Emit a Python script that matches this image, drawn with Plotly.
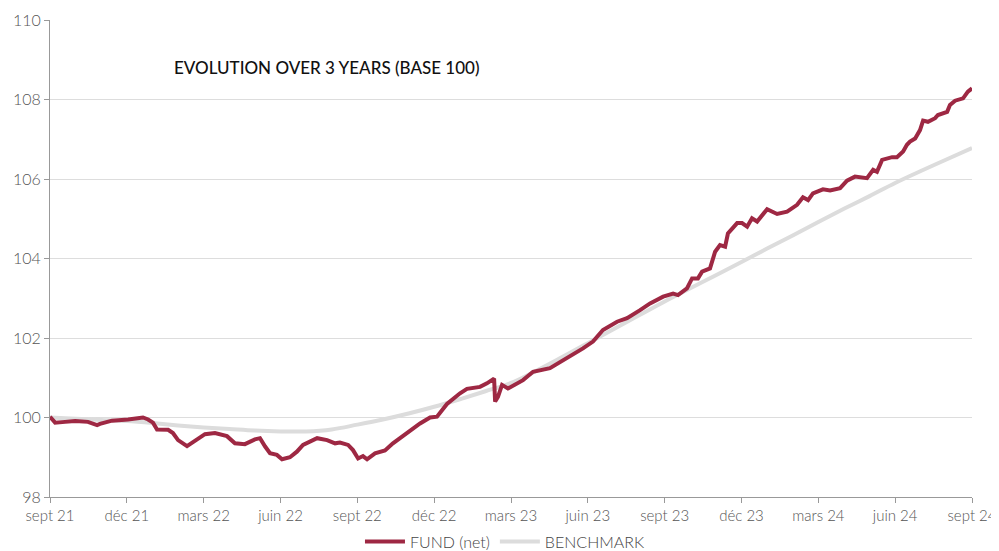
import plotly.graph_objects as go

# Months since end of Sept 2021
tick_months = [0, 3, 6, 9, 12, 15, 18, 21, 24, 27, 30, 33, 36]
tick_labels = ["sept 21", "déc 21", "mars 22", "juin 22", "sept 22", "déc 22", "mars 23",
               "juin 23", "sept 23", "déc 23", "mars 24", "juin 24", "sept 24"]

fund_t = [0, 0.20, 0.59, 0.98, 1.48, 1.84, 1.95, 2.42, 3.05, 3.63, 3.83, 4.02, 4.18, 4.61, 4.80,
          5.00, 5.35, 5.58, 6.05, 6.44, 6.91, 7.22, 7.61, 8.00, 8.20, 8.40, 8.59, 8.86, 9.06, 9.37,
          9.64, 9.88, 10.43, 10.82, 11.13, 11.32, 11.64, 11.83, 12.03, 12.22, 12.38, 12.69, 13.08,
          13.39, 13.74, 14.17, 14.45, 14.84, 15.11, 15.50, 16.01, 16.28, 16.79, 17.06, 17.34, 17.38,
          17.49, 17.65, 17.88, 18.47, 18.86, 19.52, 20.19, 20.81, 21.20, 21.59, 22.14, 22.53, 23.04,
          23.43, 23.94, 24.33, 24.52, 24.87, 25.07, 25.30, 25.46, 25.77, 25.97, 26.16, 26.36, 26.47,
          26.83, 27.02, 27.22, 27.41, 27.61, 28.00, 28.39, 28.78, 29.17, 29.40, 29.60, 29.79, 30.18,
          30.46, 30.85, 31.12, 31.43, 31.90, 32.14, 32.29, 32.49, 32.88, 33.07, 33.31, 33.46, 33.58,
          33.78, 33.97, 34.09, 34.28, 34.56, 34.67, 35.03, 35.14, 35.34, 35.65, 35.84, 36.00]
fund_v = [100.02, 99.87, 99.89, 99.91, 99.89, 99.81, 99.84, 99.92, 99.95, 100.00, 99.95, 99.87,
          99.70, 99.69, 99.61, 99.43, 99.28, 99.37, 99.58, 99.61, 99.53, 99.35, 99.33, 99.45, 99.48,
          99.27, 99.10, 99.06, 98.95, 99.00, 99.14, 99.31, 99.48, 99.43, 99.35, 99.37, 99.31, 99.18,
          98.97, 99.03, 98.95, 99.10, 99.17, 99.35, 99.52, 99.73, 99.85, 100.00, 100.02, 100.34,
          100.61, 100.72, 100.77, 100.86, 100.98, 100.40, 100.52, 100.82, 100.73, 100.94, 101.15,
          101.24, 101.49, 101.74, 101.91, 102.20, 102.41, 102.50, 102.70, 102.87, 103.04, 103.12,
          103.08, 103.25, 103.50, 103.50, 103.67, 103.75, 104.17, 104.34, 104.30, 104.63, 104.89,
          104.89, 104.80, 105.01, 104.93, 105.24, 105.12, 105.18, 105.35, 105.54, 105.47, 105.64,
          105.74, 105.71, 105.77, 105.96, 106.06, 106.02, 106.23, 106.18, 106.48, 106.55, 106.55,
          106.69, 106.86, 106.94, 107.02, 107.23, 107.47, 107.44, 107.53, 107.61, 107.69, 107.86,
          107.97, 108.03, 108.20, 108.28]

bench_t = list(range(37))
bench_v = [100.00, 99.97, 99.94, 99.91, 99.86, 99.80, 99.75, 99.71, 99.67, 99.65, 99.65, 99.70,
           99.82, 99.95, 100.10, 100.27, 100.46, 100.66, 100.87, 101.18, 101.52, 101.87, 102.22,
           102.57, 102.92, 103.25, 103.58, 103.91, 104.25, 104.58, 104.92, 105.25, 105.57, 105.90,
           106.20, 106.49, 106.78]

FONT = "Lato, 'Open Sans', sans-serif"

fig = go.Figure()
fig.add_trace(go.Scatter(x=bench_t, y=bench_v, mode="lines", name="BENCHMARK",
                         line=dict(color="#DCDCDC", width=4, shape="spline")))
fig.add_trace(go.Scatter(x=fund_t, y=fund_v, mode="lines", name="FUND (net)",
                         line=dict(color="#9E2843", width=4)))

fig.update_layout(
    width=991, height=543,
    margin=dict(l=42, r=27, t=12, b=54, autoexpand=False),
    paper_bgcolor="white", plot_bgcolor="white",
    font=dict(family=FONT, color="#555555", size=14),
    legend=dict(orientation="h", x=0.494, xanchor="center", y=-0.058, yanchor="top",
                font=dict(size=16, color="#444444", weight=300), traceorder="reversed",
                itemwidth=40),
    showlegend=True,
    annotations=[dict(text="EVOLUTION OVER 3 YEARS (BASE 100)", x=0.3, y=0.901,
                      xref="paper", yref="paper", xanchor="center", yanchor="middle",
                      showarrow=False,
                      font=dict(family=FONT, size=17, color="#111111", weight=500))],
)
fig.update_xaxes(range=[0, 36], tickvals=tick_months, ticktext=tick_labels,
                 showgrid=False, zeroline=False, showline=True, linecolor="#999999",
                 linewidth=1, ticks="outside", ticklen=5, tickcolor="#999999",
                 automargin=False, ticklabeloverflow="allow",
                 tickfont=dict(size=15, color="#555555", weight=300))
fig.update_yaxes(range=[98, 110], dtick=2, showgrid=True, gridcolor="#DDDDDD",
                 zeroline=False, showline=True, linecolor="#999999", linewidth=1,
                 ticks="outside", ticklen=5, tickcolor="#999999", automargin=False,
                 tickfont=dict(size=16, color="#555555", weight=300))

fig.write_html("out.html")
